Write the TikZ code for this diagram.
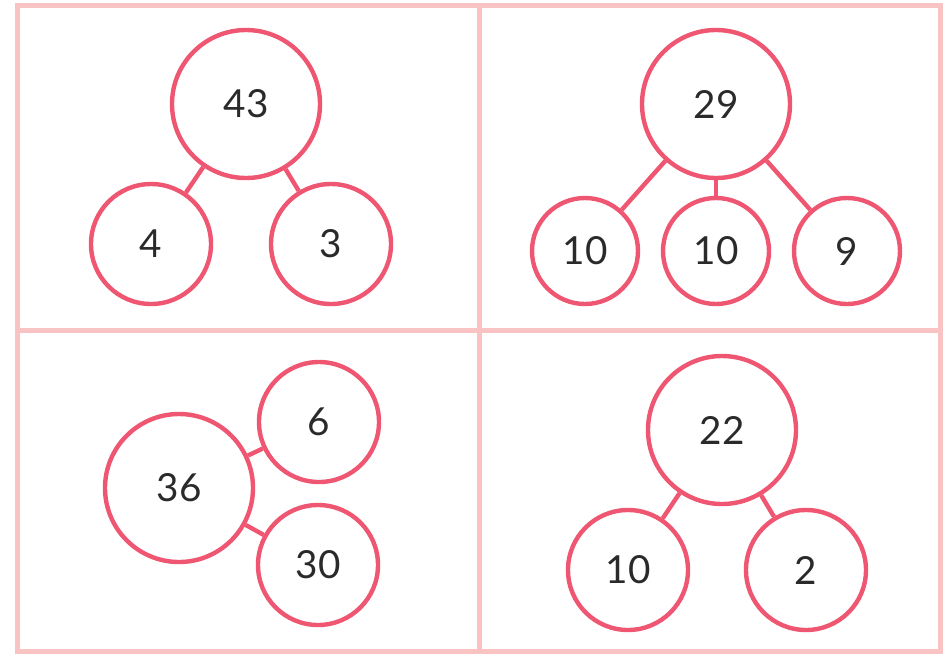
\documentclass[tikz,border=0pt]{standalone}
\usepackage{fontspec}
\setmainfont{Lato}
\usetikzlibrary{positioning}
\definecolor{ballcolor}{HTML}{EE5672}
\definecolor{gridcolor}{HTML}{F9C3C3}
\definecolor{numcolor}{HTML}{2A2A2A}
\tikzset{
	bigball/.style={
		circle,
		draw=ballcolor,
		line width=3.3pt,
		minimum size=111pt,
		inner sep=0pt,
		text=numcolor,
		font=\fontsize{29}{32}\selectfont
	},
	ball/.style={
		bigball,
		minimum size=90pt
	},
	smallball/.style={
		bigball,
		minimum size=79.5pt
	},
	link/.style={
		draw=ballcolor,
		line width=3.3pt
	},
	gridline/.style={
		draw=gridcolor,
		line width=3.75pt
	}
}

\begin{document}
\begin{tikzpicture}[x=0.75pt,y=-0.75pt]
		\useasboundingbox (0,0) rectangle (946,654);
		
		% Grid
		\draw[gridline] (17.5,5.5) rectangle (940,651);
		\draw[gridline] (479,5.5) -- (479,651);
		\draw[gridline] (17.5,330) -- (940,330);
		
		% Top left panel
		\node[bigball] (wholeA) at (246,104) {43};
		\node[ball] (partAa) at (151,244) {4};
		\node[ball] (partAb) at (331,244) {3};
		
		% Top right panel
		\node[bigball] (wholeB) at (716,104) {29};
		\node[smallball] (partBa) at (585,251) {10};
		\node[smallball] (partBb) at (716,251) {10};
		\node[smallball] (partBc) at (847,251) {9};
		
		% Bottom left panel
		\node[bigball] (wholeC) at (179,488) {36};
		\node[ball] (partCa) at (319,422) {6};
		\node[ball] (partCb) at (318,565) {30};
		
		% Bottom right panel
		\node[bigball] (wholeD) at (722,430) {22};
		\node[ball] (partDa) at (628,570) {10};
		\node[ball] (partDb) at (806,570) {2};
		
		% Links
		\draw[link] (wholeA) -- (partAa);
		\draw[link] (wholeA) -- (partAb);
		
		\draw[link] (wholeB) -- (partBa);
		\draw[link] (wholeB) -- (partBb);
		\draw[link] (wholeB) -- (partBc);
		
		\draw[link] (wholeC) -- (partCa);
		\draw[link] (wholeC) -- (partCb);
		
		\draw[link] (wholeD) -- (partDa);
		\draw[link] (wholeD) -- (partDb);
		
	\end{tikzpicture}
\end{document}
